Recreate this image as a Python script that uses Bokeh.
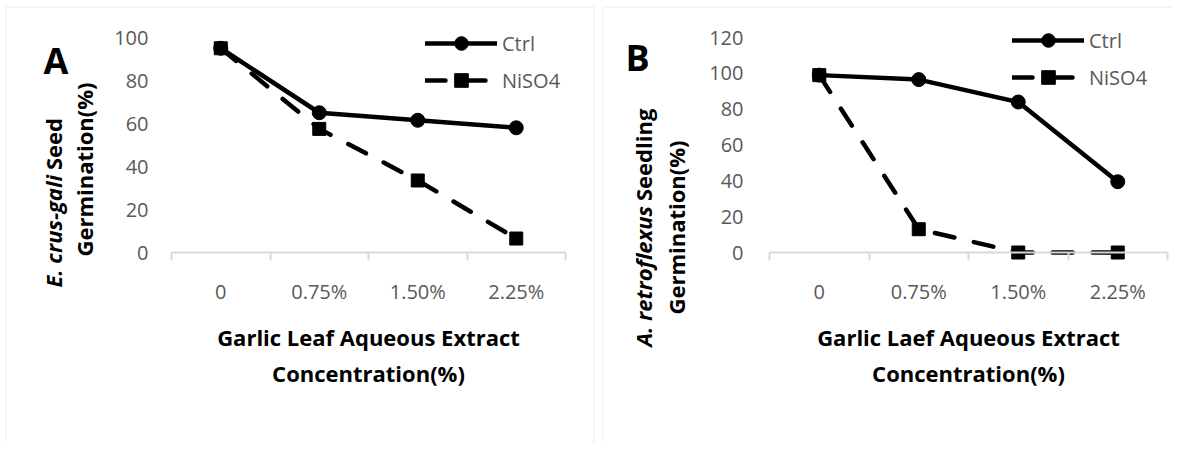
import numpy as np
from bokeh.plotting import figure
from bokeh.layouts import row
from bokeh.models import Range1d, FixedTicker, Label, Legend, LegendItem, BoxAnnotation
from bokeh.embed import file_html
from bokeh.resources import INLINE

# ---------------- data ----------------
categories = ["0", "0.75%", "1.50%", "2.25%"]
a_ctrl = [95, 65, 61.5, 58]
a_niso4 = [95, 57.5, 33.5, 6.5]
b_ctrl = [99, 96.5, 84, 39.5]
b_niso4 = [99, 13, 0, 0]
a_yticks = [0, 20, 40, 60, 80, 100]
b_yticks = [0, 20, 40, 60, 80, 100, 120]
series_names = ["Ctrl", "NiSO4"]

FONT = "Open Sans"
GREY = "#595959"
AXIS = "#d9d9d9"
TICK_FS = "20px"
TITLE_FS = "22px"

H = 443
Y_TOP = 37     # canvas y of the top tick value
Y_ZERO = 252   # canvas y of value 0


def make_panel(width, x0, x1, yticks, ctrl, niso4, ystand, legend_xy,
               letter, letter_xy, ytitle_parts, ytitle2, xtitle, box_left, box_right):
    n = len(categories)
    ymax = yticks[-1]
    pxx = (x1 - x0) / n
    pxy = (Y_ZERO - Y_TOP) / ymax
    p = figure(width=width, height=H, output_backend="svg", toolbar_location=None,
               x_range=Range1d(-x0 / pxx, (width - x0) / pxx),
               y_range=Range1d(-(H - Y_ZERO) / pxy, Y_ZERO / pxy),
               min_border=0, min_border_left=0, min_border_right=0,
               min_border_top=0, min_border_bottom=0)
    p.title.visible = False
    p.outline_line_color = None
    p.xgrid.visible = False
    p.ygrid.visible = False
    p.background_fill_color = "white"
    p.border_fill_color = "white"

    xs = [i + 0.5 for i in range(n)]

    # x axis
    xa = p.xaxis[0]
    xa.fixed_location = 0
    xa.bounds = (0, n)
    xa.ticker = FixedTicker(ticks=xs, minor_ticks=list(range(n + 1)))
    xa.major_label_overrides = {x: c for x, c in zip(xs, categories)}
    xa.axis_line_color = AXIS
    xa.axis_line_width = 2
    xa.major_tick_line_color = None
    xa.major_tick_out = 0
    xa.major_tick_in = 0
    xa.minor_tick_line_color = AXIS
    xa.minor_tick_line_width = 2
    xa.minor_tick_out = 8
    xa.minor_tick_in = 0
    xa.major_label_standoff = 17
    xa.major_label_text_font = FONT
    xa.major_label_text_font_size = TICK_FS
    xa.major_label_text_color = GREY

    # y axis
    ya = p.yaxis[0]
    ya.fixed_location = 0
    ya.bounds = (0, ymax)
    ya.ticker = FixedTicker(ticks=yticks)
    ya.axis_line_color = None
    ya.major_tick_line_color = None
    ya.minor_tick_line_color = None
    ya.major_tick_out = 0
    ya.major_tick_in = 0
    ya.major_label_standoff = ystand
    ya.major_label_text_font = FONT
    ya.major_label_text_font_size = TICK_FS
    ya.major_label_text_color = GREY

    l1 = p.line(xs, ctrl, line_width=4.5, color="black", line_cap="round", line_join="round")
    s1 = p.scatter(xs, ctrl, marker="circle", size=14, color="black")
    l2 = p.line(xs, niso4, line_width=4.5, color="black", line_cap="round",
                line_join="round", line_dash="20 20")
    s2 = p.scatter(xs, niso4, marker="square", size=13, color="black")

    legend = Legend(items=[LegendItem(label=series_names[0], renderers=[l1, s1]),
                           LegendItem(label=series_names[1], renderers=[l2, s2])],
                    location=legend_xy, orientation="vertical",
                    glyph_width=72, glyph_height=34, label_height=34, spacing=3,
                    padding=0, margin=0, border_line_color=None,
                    background_fill_alpha=0, label_standoff=5,
                    label_text_font=FONT, label_text_font_size=TICK_FS,
                    label_text_color=GREY)
    p.add_layout(legend)

    def lab(x, y, text, style, size, align, baseline, angle=0.0):
        p.add_layout(Label(x=x, y=H - y, x_units="screen", y_units="screen", angle=angle,
                           text=text, text_font=FONT, text_font_style=style,
                           text_font_size=size, text_color="black",
                           text_align=align, text_baseline=baseline))

    lab(letter_xy[0], letter_xy[1], letter, "bold", "36px", "left", "alphabetic")

    (lx1, yj_it, yj_rm, it_text, rm_text) = ytitle_parts
    lab(lx1, yj_it, it_text, "bold italic", TITLE_FS, "right", "middle", np.pi / 2)
    lab(lx1, yj_rm, rm_text, "bold", TITLE_FS, "left", "middle", np.pi / 2)
    (lx2, ly2, t2) = ytitle2
    lab(lx2, ly2, t2, "bold", TITLE_FS, "center", "middle", np.pi / 2)

    for (txt, yy) in xtitle:
        lab((x0 + x1) / 2, yy, txt, "bold", TITLE_FS, "center", "middle")

    # panel border (page pixel positions)
    p.add_layout(BoxAnnotation(left=box_left, right=box_right, top=H - 6.5, bottom=-100,
                               left_units="screen", right_units="screen",
                               top_units="screen", bottom_units="screen",
                               fill_alpha=0, line_color=AXIS, line_width=1.5))
    return p


WA = 597
pa = make_panel(WA, 171, 565, a_yticks, a_ctrl, a_niso4, 23, (425, H - 97),
                "A", (43, 60),
                (52, 174.5, 169.5, "E. crus-gali", "Seed"),
                (83, 169, "Germination(%)"),
                [("Garlic Leaf Aqueous Extract", 336), ("Concentration(%)", 372)],
                5.5, 593.5)

pb = make_panel(575, 769 - WA, 1167 - WA, b_yticks, b_ctrl, b_niso4, 26, (1012 - WA, H - 94),
                "B", (627 - WA - 2, 57),
                (642 - WA, 205.5, 200.5, "A. retroflexus", "Seedling"),
                (675 - WA, 227, "Germination(%)"),
                [("Garlic Laef Aqueous Extract", 336), ("Concentration(%)", 372)],
                602.5 - WA, 900)

layout = row(pa, pb)
open("out.html", "w").write(file_html(layout, INLINE))
